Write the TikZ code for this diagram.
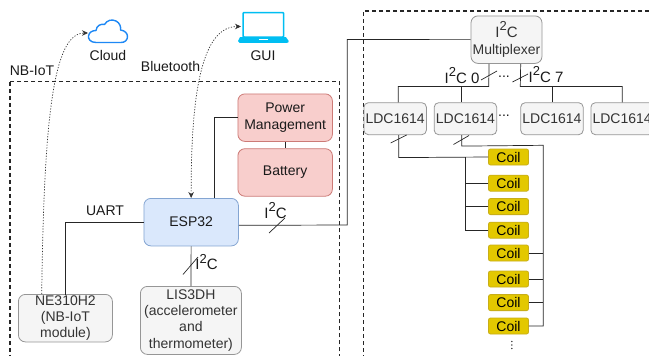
\documentclass[tikz,border=0pt]{standalone}
\usepackage{fontspec}
\setmainfont{Liberation Sans}
\usetikzlibrary{arrows.meta}
\definecolor{txt}{HTML}{1A1A1A}
\definecolor{graytxt}{HTML}{333333}
\definecolor{redfill}{HTML}{F8CECC}
\definecolor{redline}{HTML}{CC7A76}
\definecolor{bluefill}{HTML}{DAE8FC}
\definecolor{blueline}{HTML}{84A5D2}
\definecolor{grayfill}{HTML}{F5F5F5}
\definecolor{grayline}{HTML}{969696}
\definecolor{coilfill}{HTML}{E3C800}
\definecolor{coilline}{HTML}{C8AE18}
\definecolor{cloudblue}{HTML}{1E88F5}
\definecolor{laptopblue}{HTML}{00BEF2}
\newcommand{\ITC}{I\raisebox{.42em}{\fontsize{13}{13}\selectfont 2}C}
\tikzset{
  every node/.style={font=\fontsize{14}{16.2}\selectfont, text=txt, align=center, inner sep=0pt},
  box/.style={draw, rounded corners=7pt, line width=.8pt, anchor=north west},
  redbox/.style={box, fill=redfill, draw=redline},
  bluebox/.style={box, fill=bluefill, draw=blueline},
  graybox/.style={box, fill=grayfill, draw=grayline, text=graytxt},
  ldcbox/.style={graybox, rounded corners=4.5pt, minimum width=62.5pt, minimum height=32pt},
  coilbox/.style={draw=coilline, fill=coilfill, rounded corners=2pt, line width=.8pt, minimum width=40pt, minimum height=16pt, text=black},
  wire/.style={draw=black!85, line width=.7pt},
  slash/.style={draw=black!85, line width=.7pt},
  zone/.style={draw=black!85, line width=1.3pt, dash pattern=on 4pt off 3pt},
  link/.style={draw=black!80, line width=.7pt, dash pattern=on 1.2pt off 1.6pt},
}
\begin{document}
\begin{tikzpicture}[x=1pt,y=-1pt]
\clip (0,0) rectangle (649,356);
\fill[white] (0,0) rectangle (649,356);
% zones
\draw[zone] (10,81.8) rectangle (339.7,356.2);
\draw[zone] (670,11) -- (363.3,11) -- (363.3,356.2) -- (670,356.2);
% boxes
\node[redbox, minimum width=94.5pt, minimum height=47.5pt] (pm) at (237.5,93.5) {Power\\Management};
\node[redbox, minimum width=94.5pt, minimum height=47.5pt] (bat) at (237.5,148.3) {Battery};
\node[bluebox, minimum width=94.5pt, minimum height=47.5pt] (esp) at (143.5,198) {ESP32};
\node[graybox, minimum width=94pt, minimum height=47.5pt] (ne) at (18,294) {NE310H2\\(NB-IoT\\module)};
\node[graybox, minimum width=101pt, minimum height=68pt] (lis) at (140,286) {LIS3DH\\(accelerometer\\and\\thermometer)};
\node[graybox, minimum width=71pt, minimum height=47.5pt] (mux) at (470.6,15.5) {{\fontsize{15}{18}\selectfont\ITC}\\[1pt]Multiplexer};
\foreach \n/\x in {a/363.5,b/433.8,c/520.3,d/590.5}
  \node[ldcbox] (ldc\n) at (\x,102.3) {LDC1614};
\foreach \n/\y in {1/157,2/183.2,3/206.6,4/230.2,5/253,6/279,7/302.6,8/326}
  \node[coilbox] (coil\n) at (508.5,\y) {Coil};
% wires
\draw[wire] (esp.west) -- ++(-78.5,0) -- ++(0,72.5);
\draw[wire] (pm.north west) ++(0,23.5) -- ++(-23.3,0) -- ++(0,81);
\draw[wire] (pm.south) -- (bat.north);
\draw[wire] (esp.south) -- (lis.north);
\draw[wire] (esp.east) ++(0,3.2) -- (347.3,225) -- (347.3,39.5) -- (mux.west);
\coordinate (busa) at (488.7,86.5);
\coordinate (busb) at (520.3,86.5);
\draw[wire] (mux.south) ++(-17.4,0) -- (busa) -- (398.3,86.5) -- ++(0,15.8);
\draw[wire] (ldcb.north) ++(-3.7,0) -- ++(0,-15.8);
\draw[wire] (mux.south) ++(14.2,0) -- (busb) -- (ldcd.north |- busb) -- (ldcd.north);
\draw[wire] (ldcc.north) -- ++(0,-15.8);
\draw[wire] (ldca.south) ++(3.6,0) -- ++(0,22.5) -- (coil1.west);
\draw[wire] (465.7,157) -- (465.7,230.2) -- (coil4.west);
\draw[wire] (465.7,183.2) -- (coil2.west);
\draw[wire] (465.7,206.6) -- (coil3.west);
\draw[wire] (ldcb.south) ++(-3.7,0) -- ++(0,11) -- (543.3,145.3) -- (543.3,326) -- (coil8.east);
\foreach \i/\y in {5/253,6/279,7/302.6}
  \draw[wire] (coil\i.east) -- (543.3,\y);
% bus slashes
\draw[slash] (269,233) -- (285,218);
\draw[slash] (183,274.5) -- (198,257);
\draw[slash] (481,80) -- (497,71);
\draw[slash] (512.5,82) -- (528,74);
\draw[slash] (390.7,143) -- (406.7,135);
\draw[slash] (453.5,144.5) -- (469,135.5);
% icons
\coordinate (cloudport) at (88,33);
\coordinate (guiport) at (241,26.5);
\draw[line width=1.4pt, draw=cloudblue, fill=white, line join=round]
  (96,42.5) .. controls (90,42.5) and (88,38.5) .. (88.5,36) .. controls (89,32.5) and (92,30.5) .. (96,30.5)
  .. controls (96.5,25.5) and (101,23.5) .. (104.5,24.5) .. controls (107,20) and (112,19) .. (116,21)
  .. controls (120,23) and (121,27) .. (120.5,30) .. controls (125,30.5) and (127.5,33.5) .. (127.5,36.5)
  .. controls (127.5,40) and (125,42.5) .. (121,42.5) -- cycle;
\draw[line width=1.5pt, draw=laptopblue, fill=white, rounded corners=1pt] (243,12.5) rectangle (283.7,37);
\fill[laptopblue] (240,37.2) -- (286,37.2) -- (288.7,41) .. controls (288.7,42.5) and (288,42.8) .. (287,42.8) -- (239.5,42.8) .. controls (238.5,42.8) and (238,42.5) .. (238,41) -- cycle;
\fill[white] (258.5,38.6) rectangle (267.5,40.4);
% wireless links
\draw[link, -{Stealth[length=6pt,width=5.5pt]}] (41.7,294) .. controls (44,120) and (53,33) .. (cloudport);
\draw[link, {Stealth[length=6pt,width=5.5pt]}-{Stealth[length=6pt,width=5.5pt]}] (esp.north) .. controls (191,100) and (200,26.5) .. (guiport);
% labels
\node (lcloud) at (108,55.5) {Cloud};
\node (lgui) at (263,55.5) {GUI};
\node (lnb) at (32,70.5) {NB-IoT};
\node (lbt) at (170.5,66.5) {Bluetooth};
\node (luart) at (105,210.5) {UART};
\node[font=\fontsize{15}{18}\selectfont] (li1) at (275.5,210.5) {\ITC};
\node[font=\fontsize{15}{18}\selectfont] (li2) at (206.5,262) {\ITC};
\node[font=\fontsize{15}{18}\selectfont] (li3) at (462,75.5) {\ITC{} 0};
\node[font=\fontsize{15}{18}\selectfont] (li4) at (546,74.5) {\ITC{} 7};
\node (d1) at (504,76.5) {...};
\node (d2) at (504,116) {...};
\foreach \y in {341.5,345,348.5} \fill[black!85] (511.8,\y) circle (.8pt);
\end{tikzpicture}
\end{document}
